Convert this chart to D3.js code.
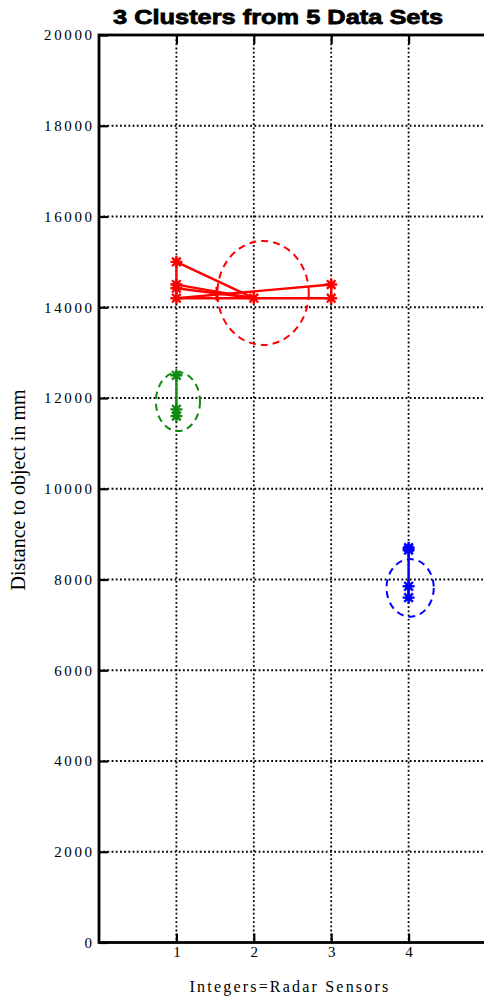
<!DOCTYPE html>
<html><head><meta charset="utf-8">
<script src="https://cdn.jsdelivr.net/npm/d3@7"></script>
<style>
html,body{margin:0;padding:0;background:#fff;}
svg{display:block;}
</style></head>
<body>
<svg id="chart" width="484" height="999"></svg>
<script>
// ---- data ----
const xTickValues = [1, 2, 3, 4];
const yTickValues = [0, 2000, 4000, 6000, 8000, 10000, 12000, 14000, 16000, 18000, 20000];

// red cluster: data-set segments [x1, y1, x2, y2]
const redSegments = [
  [1, 15000, 2, 14200],
  [1, 14500, 2, 14200],
  [1, 14420, 2, 14200],
  [1, 14200, 3, 14200],
  [1, 14200, 3, 14500],
  [1, 15000, 1, 14200],
  [3, 14500, 3, 14200]
];
const redStarX = [1, 1, 1, 1, 2, 3, 3];
const redStarY = [15000, 14500, 14420, 14200, 14200, 14500, 14200];
const redPlusX = [1.52];
const redPlusY = [14300];

const greenX = [1, 1, 1];
const greenY = [12500, 11750, 11600];

const blueX = [4, 4, 4, 4];
const blueY = [8700, 8650, 7850, 7600];

// cluster ellipses: centre x, centre y, radius x, radius y
const ellipseCx = [2.12, 1.02, 4.02];
const ellipseCy = [14315, 11920, 7815];
const ellipseRx = [0.59, 0.285, 0.305];
const ellipseRy = [1145, 650, 635];
const clusterColors = ["#ff0000", "#108a10", "#0000ff"];

// ---- layout ----
const svg = d3.select("#chart");
const L = 99, R = 486, T = 35, B = 942.5;
const x = d3.scaleLinear().domain([0, 5]).range([L, R]);
const y = d3.scaleLinear().domain([0, 20000]).range([B, T]);

// grid (dotted)
const grid = svg.append("g");
grid.selectAll("line.gx").data(xTickValues).join("line")
  .attr("x1", d => x(d)).attr("x2", d => x(d)).attr("y1", T).attr("y2", B)
  .attr("stroke", "#000").attr("stroke-width", 1.8).attr("stroke-dasharray", "1.8,2.4");
grid.selectAll("line.gy").data(yTickValues.filter(v => v > 0 && v < 20000)).join("line")
  .attr("x1", L).attr("x2", R).attr("y1", d => y(d)).attr("y2", d => y(d))
  .attr("stroke", "#000").attr("stroke-width", 1.8).attr("stroke-dasharray", "1.8,2.4");

// axes
const tickLen = 9;
const xAxis = d3.axisBottom(x).tickValues(xTickValues).tickSize(-tickLen).tickPadding(4).tickFormat(d3.format("d"));
const xAxisTop = d3.axisTop(x).tickValues(xTickValues).tickSize(-tickLen).tickFormat("");
const yAxis = d3.axisLeft(y).tickValues(yTickValues).tickSize(-tickLen).tickPadding(7).tickFormat(d3.format("d"));

function styleAxis(g) {
  g.select(".domain").remove();
  g.selectAll(".tick line").attr("stroke", "#000").attr("stroke-width", 2.2);
  g.selectAll(".tick text").attr("fill", "#000")
    .style("font-family", "'Liberation Serif','DejaVu Serif',serif")
    .style("font-size", "15px").style("letter-spacing", "2.6px");
}
svg.append("g").attr("transform", `translate(0,${B})`).call(xAxis).call(styleAxis)
  .selectAll(".tick text").attr("dx", "1.3px");
svg.append("g").attr("transform", `translate(0,${T})`).call(xAxisTop).call(styleAxis);
svg.append("g").attr("transform", `translate(${L},0)`).call(yAxis).call(styleAxis)
  .selectAll(".tick text").attr("dx", "2.6px");

// frame
svg.append("rect").attr("x", L).attr("y", T).attr("width", R - L).attr("height", B - T)
  .attr("fill", "none").attr("stroke", "#000").attr("stroke-width", 2.8);

// marks
const plot = svg.append("g");
function star(g, px, py, color, s) {
  const d = `M${px - s},${py}L${px + s},${py}M${px},${py - s}L${px},${py + s}` +
    `M${px - s * 0.72},${py - s * 0.72}L${px + s * 0.72},${py + s * 0.72}` +
    `M${px - s * 0.72},${py + s * 0.72}L${px + s * 0.72},${py - s * 0.72}`;
  g.append("path").attr("d", d).attr("stroke", color).attr("stroke-width", 2.4).attr("fill", "none");
}
function plus(g, px, py, color, s) {
  g.append("path").attr("d", `M${px - s},${py}L${px + s},${py}M${px},${py - s}L${px},${py + s}`)
    .attr("stroke", color).attr("stroke-width", 2.4).attr("fill", "none");
}

// ellipses
plot.selectAll("ellipse").data(ellipseCx).join("ellipse")
  .attr("cx", (d, i) => x(d))
  .attr("cy", (d, i) => y(ellipseCy[i]))
  .attr("rx", (d, i) => x(d + ellipseRx[i]) - x(d))
  .attr("ry", (d, i) => y(ellipseCy[i] - ellipseRy[i]) - y(ellipseCy[i]))
  .attr("fill", "none")
  .attr("stroke", (d, i) => clusterColors[i])
  .attr("stroke-width", 2)
  .attr("stroke-dasharray", "7,5");

// red lines
plot.selectAll("line.red").data(redSegments).join("line")
  .attr("x1", d => x(d[0])).attr("y1", d => y(d[1]))
  .attr("x2", d => x(d[2])).attr("y2", d => y(d[3]))
  .attr("stroke", clusterColors[0]).attr("stroke-width", 2.4);
redStarX.forEach((v, i) => star(plot, x(v), y(redStarY[i]), clusterColors[0], 6));
redPlusX.forEach((v, i) => plus(plot, x(v), y(redPlusY[i]), clusterColors[0], 7));

// green
const line = d3.line().x(d => x(d[0])).y(d => y(d[1]));
plot.append("path").datum(greenX.map((v, i) => [v, greenY[i]])).attr("d", line)
  .attr("stroke", clusterColors[1]).attr("stroke-width", 2.4).attr("fill", "none");
greenX.forEach((v, i) => star(plot, x(v), y(greenY[i]), clusterColors[1], 6));

// blue
plot.append("path").datum(blueX.map((v, i) => [v, blueY[i]])).attr("d", line)
  .attr("stroke", clusterColors[2]).attr("stroke-width", 2.4).attr("fill", "none");
blueX.forEach((v, i) => star(plot, x(v), y(blueY[i]), clusterColors[2], 6));

// titles
svg.append("text").attr("x", 278).attr("y", 24).attr("text-anchor", "middle")
  .attr("textLength", 330).attr("lengthAdjust", "spacingAndGlyphs")
  .style("font-family", "'Liberation Sans','DejaVu Sans',sans-serif")
  .style("font-weight", "900").style("font-size", "21px").attr("stroke", "#000").attr("stroke-width", 0.8)
  .text("3 Clusters from 5 Data Sets");

svg.append("text").attr("x", 290).attr("y", 992).attr("text-anchor", "middle")
  .style("font-family", "'Liberation Serif','DejaVu Serif',serif")
  .style("font-size", "16px").style("letter-spacing", "2.2px")
  .text("Integers=Radar Sensors");

svg.append("text").attr("transform", `translate(25,490) rotate(-90)`).attr("text-anchor", "middle")
  .style("font-family", "'Liberation Serif','DejaVu Serif',serif")
  .style("font-size", "20px")
  .text("Distance to object in mm");
</script>
</body></html>
